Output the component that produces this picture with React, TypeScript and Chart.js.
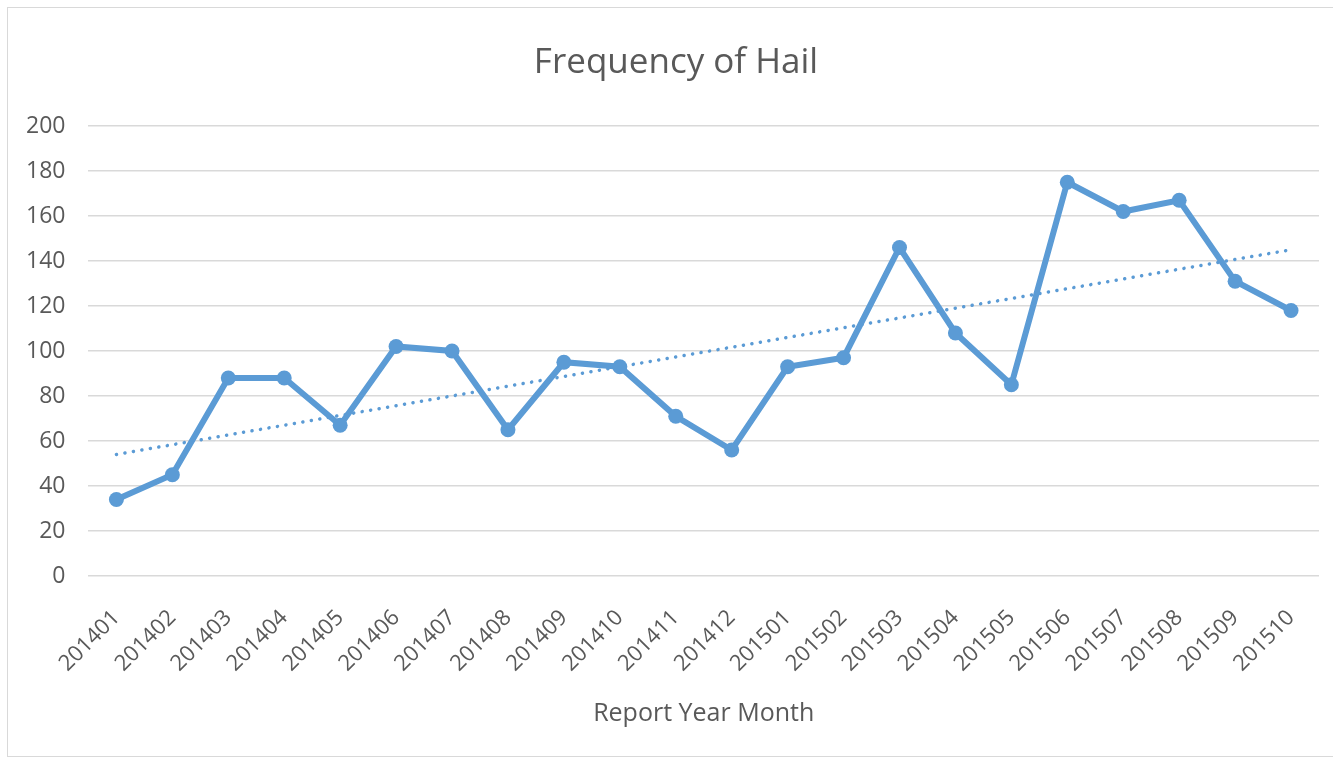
import React, { useEffect, useRef } from "react";
import { Chart, registerables } from "chart.js";

Chart.register(...registerables);

const chartTitle = "Frequency of Hail";
const xAxisTitle = "Report Year Month";

const categories = [
  "201401", "201402", "201403", "201404", "201405", "201406", "201407", "201408",
  "201409", "201410", "201411", "201412", "201501", "201502", "201503", "201504",
  "201505", "201506", "201507", "201508", "201509", "201510",
];

const hailCounts = [
  34, 45, 88, 88, 67, 102, 100, 65, 95, 93, 71, 56, 93, 97, 146, 108, 85, 175, 162, 167, 131, 118,
];

// Linear trendline endpoints
const trendStart = 54;
const trendEnd = 145;

const yTicks = [0, 20, 40, 60, 80, 100, 120, 140, 160, 180, 200];

const FONT = "'Open Sans', sans-serif";
const TEXT = "#595959";
const BLUE = "#5b9bd5";

export default function App() {
  const ref = useRef<HTMLCanvasElement>(null);

  useEffect(() => {
    if (!ref.current) return;
    const trend = categories.map((_, i) =>
      i === 0 ? trendStart : i === categories.length - 1 ? trendEnd : null
    );
    const chart = new Chart(ref.current, {
      type: "line",
      data: {
        labels: categories,
        datasets: [
          {
            label: "Hail",
            data: hailCounts,
            borderColor: BLUE,
            backgroundColor: BLUE,
            borderWidth: 6,
            pointRadius: 7.5,
            pointBorderWidth: 0,
            pointBackgroundColor: BLUE,
            tension: 0,
            order: 1,
          },
          {
            label: "Trend",
            data: trend,
            borderColor: BLUE,
            borderWidth: 3.5,
            borderDash: [0.1, 8.5],
            borderCapStyle: "round",
            pointRadius: 0,
            spanGaps: true,
            tension: 0,
            order: 2,
          },
        ],
      },
      options: {
        animation: false,
        responsive: false,
        maintainAspectRatio: false,
        layout: { padding: { left: 3, right: 15, top: 126, bottom: 38 } },
        plugins: {
          legend: { display: false },
          tooltip: { enabled: false },
          title: { display: false },
        },
        scales: {
          x: {
            offset: true,
            grid: { display: false },
            border: { display: false },
            afterFit: (scale: any) => {
              scale.paddingLeft = 0;
              scale.paddingRight = 0;
            },
            ticks: {
              color: TEXT,
              font: { family: FONT, size: 22 },
              maxRotation: 45,
              minRotation: 45,
              padding: 21,
              autoSkip: false,
            },
            title: {
              display: true,
              text: xAxisTitle,
              color: TEXT,
              font: { family: FONT, size: 25 },
              padding: { top: 1, bottom: 0 },
            },
          },
          y: {
            min: 0,
            max: 200,
            afterBuildTicks: (axis: any) => {
              axis.ticks = yTicks.map((v) => ({ value: v }));
            },
            grid: { color: "#d9d9d9", lineWidth: 1.5, drawTicks: false },
            border: { display: false },
            ticks: {
              color: TEXT,
              font: { family: FONT, size: 23 },
              padding: 23,
            },
          },
        },
      },
    });
    return () => chart.destroy();
  }, []);

  return (
    <div style={{ position: "fixed", left: 0, top: 0, width: 1334, height: 767, background: "#fff" }}>
      <div
        style={{
          position: "absolute",
          left: 7,
          top: 7,
          width: 1326,
          height: 750,
          border: "1.5px solid #d9d9d9",
          borderRight: "none",
          boxSizing: "border-box",
        }}
      />
      <canvas ref={ref} width={1334} height={767} style={{ position: "absolute", left: 0, top: 0 }} />
      <div
        style={{
          position: "absolute",
          left: 9,
          top: 39,
          width: 1334,
          textAlign: "center",
          fontFamily: FONT,
          fontSize: 35,
          lineHeight: "42px",
          color: TEXT,
          whiteSpace: "nowrap",
        }}
      >
        {chartTitle}
      </div>
    </div>
  );
}
